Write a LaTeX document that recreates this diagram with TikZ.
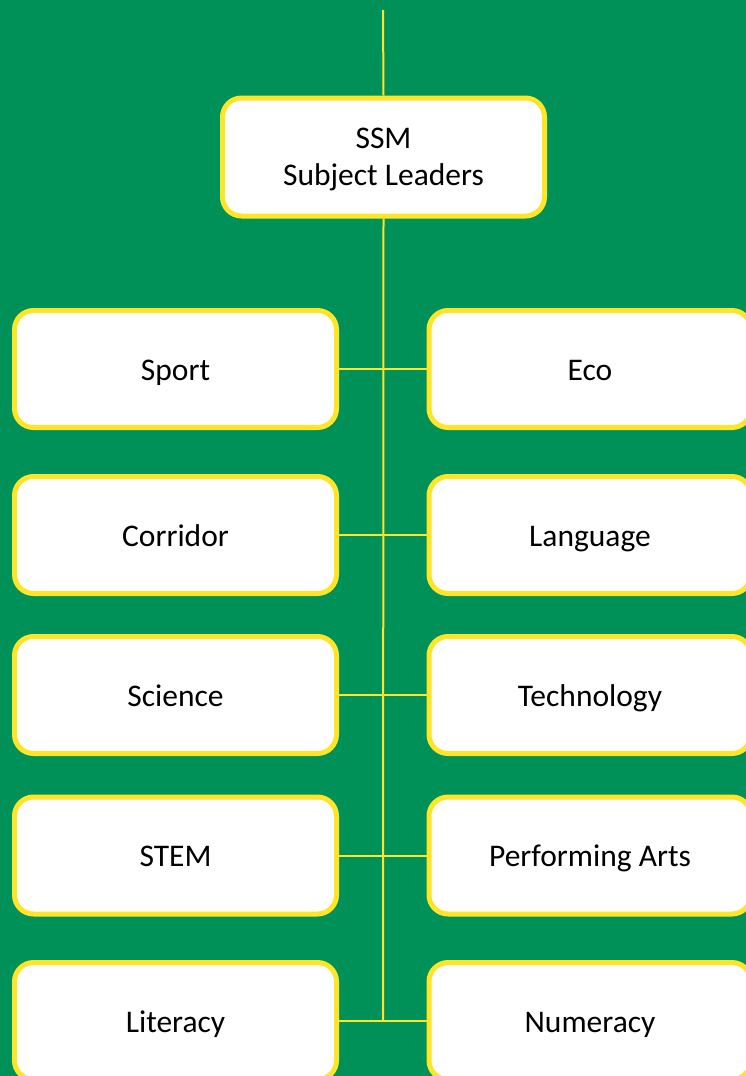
\documentclass[tikz,border=0pt]{standalone}
\usepackage{fontspec}
\setmainfont{Carlito}
\definecolor{bggreen}{RGB}{0,145,88}
\definecolor{ssmyellow}{RGB}{255,228,40}
\begin{document}
\begin{tikzpicture}[x=1pt,y=-1pt,
  box/.style={draw=ssmyellow, line width=5pt, fill=white, rounded corners=19pt,
    minimum width=322pt, minimum height=117pt, inner sep=0pt, align=center,
    font=\fontsize{31.5}{37}\selectfont, text=black},
  single/.style={text height=22pt, text depth=0pt},
  link/.style={draw=ssmyellow, line width=2pt}]
\useasboundingbox (0,0) rectangle (746,1076);
\clip (0,0) rectangle (746,1076);
\fill[bggreen] (0,0) rectangle (746,1076);
\coordinate (top) at (383,10);
\coordinate (bottom) at (383,1021);
\node[box, minimum height=118pt, text depth=0pt] (ssm) at (383.5,157) {SSM\\Subject Leaders};
\node[box, single] (sport) at (175.5,369) {Sport};
\node[box, single] (eco) at (590,369) {Eco};
\node[box, single] (corridor) at (175.5,535) {Corridor};
\node[box, single] (language) at (590,535) {Language};
\node[box, single] (science) at (175.5,695) {Science};
\node[box, single] (technology) at (590,695) {Technology};
\node[box, single] (stem) at (175.5,855.5) {STEM};
\node[box, single] (arts) at (590,855.5) {Performing Arts};
\node[box, single] (literacy) at (175.5,1021) {Literacy};
\node[box, single] (numeracy) at (590,1021) {Numeracy};
\draw[link] (top) -- (ssm.north);
\draw[link] (ssm.south) -- (bottom);
\draw[link] (sport.east) -- (eco.west);
\draw[link] (corridor.east) -- (language.west);
\draw[link] (science.east) -- (technology.west);
\draw[link] (stem.east) -- (arts.west);
\draw[link] (literacy.east) -- (numeracy.west);
\end{tikzpicture}
\end{document}
